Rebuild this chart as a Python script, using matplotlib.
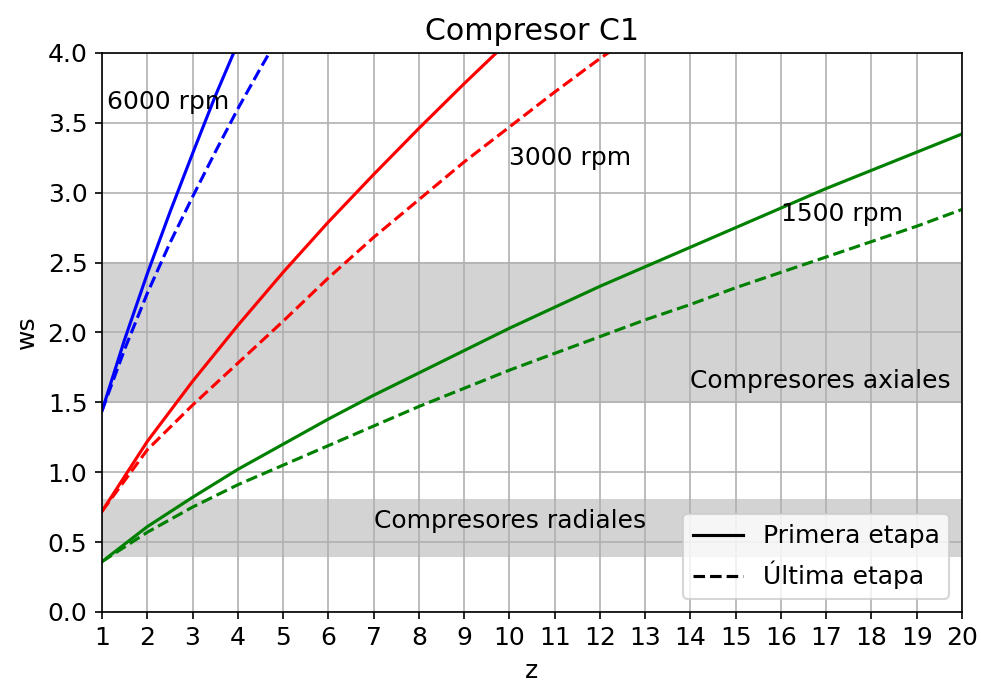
import matplotlib
matplotlib.use("Agg")
import matplotlib.pyplot as plt
from matplotlib.lines import Line2D

# ws
z_6000 = [1, 1.5, 2, 2.5, 3, 3.5, 4]
ws_6000_first = [1.44, 1.95, 2.42, 2.86, 3.28, 3.69, 4.07]
z_6000_last = [1, 1.5, 2, 2.5, 3, 3.5, 4, 4.5, 5]
ws_6000_last = [1.44, 1.88, 2.28, 2.64, 2.97, 3.29, 3.60, 3.89, 4.17]

z_3000 = [1, 2, 3, 4, 5, 6, 7, 8, 9, 10]
ws_3000_first = [0.72, 1.22, 1.65, 2.05, 2.43, 2.79, 3.13, 3.46, 3.78, 4.09]
z_3000_last = [1, 2, 3, 4, 5, 6, 7, 8, 9, 10, 11, 12, 13]
ws_3000_last = [0.72, 1.16, 1.48, 1.78, 2.08, 2.39, 2.68, 2.95, 3.22, 3.47, 3.72, 3.96, 4.18]

z_1500 = list(range(1, 21))
ws_1500_first = [0.36, 0.61, 0.82, 1.02, 1.20, 1.38, 1.55, 1.71, 1.87, 2.03,
                 2.18, 2.33, 2.47, 2.61, 2.75, 2.89, 3.03, 3.16, 3.29, 3.42]
ws_1500_last = [0.36, 0.57, 0.75, 0.91, 1.05, 1.19, 1.33, 1.47, 1.60, 1.73,
                1.85, 1.97, 2.09, 2.20, 2.32, 2.43, 2.54, 2.65, 2.76, 2.88]

axial_band = (1.5, 2.5)
radial_band = (0.4, 0.8)

plt.rcParams['font.size'] = 12

fig = plt.figure(figsize=(9.81 / 1.5, 6.86 / 1.5), dpi=150)
ax = fig.add_axes([0.104, 0.108, 0.8766, 0.8148])

ax.axhspan(*axial_band, color='lightgray')
ax.axhspan(*radial_band, color='lightgray')

ax.plot(z_6000, ws_6000_first, color='blue', lw=1.5)
ax.plot(z_6000_last, ws_6000_last, color='blue', lw=1.5, ls='--')
ax.plot(z_3000, ws_3000_first, color='red', lw=1.5)
ax.plot(z_3000_last, ws_3000_last, color='red', lw=1.5, ls='--')
ax.plot(z_1500, ws_1500_first, color='green', lw=1.5)
ax.plot(z_1500, ws_1500_last, color='green', lw=1.5, ls='--')

ax.text(1.12, 3.6, '6000 rpm')
ax.text(10, 3.2, '3000 rpm')
ax.text(16, 2.8, '1500 rpm')
ax.text(14, 1.6, 'Compresores axiales')
ax.text(7, 0.6, 'Compresores radiales')

handles = [Line2D([], [], color='black', lw=1.5),
           Line2D([], [], color='black', lw=1.5, ls='--')]
ax.legend(handles, ['Primera etapa', 'Última etapa'], loc='lower right')

ax.set_xlim(1, 20)
ax.set_ylim(0, 4)
ax.set_xticks(range(1, 21))
ax.grid(True)
ax.set_xlabel('z')
ax.set_ylabel('ws')
ax.set_title('Compresor C1', fontsize=14.4)

fig.savefig('out.png', dpi=150)
